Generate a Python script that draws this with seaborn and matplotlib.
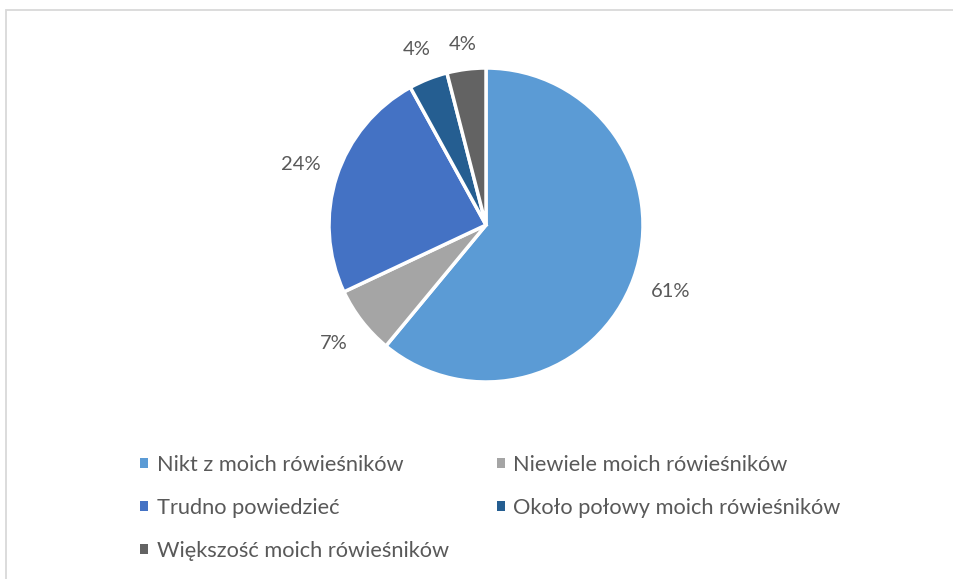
import matplotlib
matplotlib.use("Agg")
import matplotlib.pyplot as plt
from matplotlib.patches import Rectangle, Patch
import numpy as np
import seaborn as sns

categories = ["Nikt z moich rówieśników", "Niewiele moich rówieśników",
              "Trudno powiedzieć", "Około połowy moich rówieśników",
              "Większość moich rówieśników"]
shares = [61, 7, 24, 4, 4]
colors = ["#5B9BD5", "#A5A5A5", "#4472C4", "#255E91", "#636363"]
label_dist = [1.25, 1.23, 1.24, 1.2, 1.16]

sns.set_theme(style="white")
plt.rcParams["font.family"] = ["Lato", "DejaVu Sans"]
TXT = "#595959"

W, H = 954, 579
fig = plt.figure(figsize=(W / 100, H / 100), dpi=100)

# light frame like the original chart area
fig.patches.append(Rectangle((6 / W, -0.05), 1.1, (H - 10) / H + 0.05,
                             transform=fig.transFigure, fill=False,
                             edgecolor="#D9D9D9", lw=1.3))

cx, cy, r = 486, 225, 157
ax = fig.add_axes([(cx - r) / W, (H - cy - r) / H, 2 * r / W, 2 * r / H])
wedges, _, autotexts = ax.pie(
    shares, colors=colors, startangle=90, counterclock=False,
    autopct="%1.0f%%", pctdistance=1.23,
    wedgeprops=dict(edgecolor="white", linewidth=2.5),
    textprops=dict(color=TXT, fontsize=14.5),
)
# excel puts the small-slice labels a bit closer in
for w, t, d in zip(wedges, autotexts, label_dist):
    a = np.deg2rad((w.theta1 + w.theta2) / 2)
    t.set_position((d * np.cos(a), d * np.sin(a)))
ax.set_xlim(-1, 1)
ax.set_ylim(-1, 1)
ax.set_aspect("equal")

order = [0, 2, 4, 1, 3]
handles = [Patch(facecolor=colors[i], edgecolor="none") for i in order]
labels = [categories[i] for i in order]
fig.legend(handles, labels, ncol=2, loc="upper left",
           bbox_to_anchor=(140 / W, 1 - 455 / H), frameon=False,
           fontsize=15.7, labelcolor=TXT, handlelength=0.36, handleheight=0.36,
           handletextpad=0.4, labelspacing=1.05, columnspacing=2.2,
           borderpad=0, borderaxespad=0)

plt.savefig("out.png", dpi=100)
plt.close()
